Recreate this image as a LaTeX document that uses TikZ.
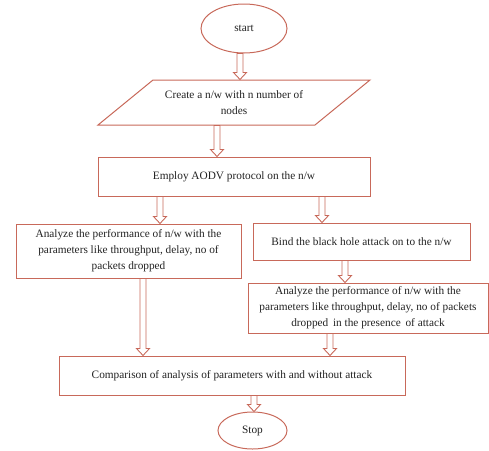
\documentclass[tikz,border=0pt]{standalone}
\usepackage{fontspec}
\setmainfont{Liberation Serif}
\usetikzlibrary{calc,shapes.geometric}
\pgfdeclarelayer{bg}
\pgfsetlayers{bg,main}
\definecolor{ln}{RGB}{200,105,90}
\definecolor{tx}{RGB}{35,35,35}
\tikzset{
 box/.style={draw=ln, line width=1pt, fill=white, inner sep=0pt, align=center, font=\fontsize{11.3}{16}\selectfont, text=tx},
 oval/.style={box, ellipse},
 blockarrow/.style={draw=ln, line width=0.9pt, fill=white, to path={let \p1=(\tikztostart), \p2=(\tikztotarget) in (\x1-3pt,\y1) -- (\x1-3pt,\y2+7pt) -- (\x1-6.5pt,\y2+7pt) -- (\x1,\y2) -- (\x1+6.5pt,\y2+7pt) -- (\x1+3pt,\y2+7pt) -- (\x1+3pt,\y1) -- cycle}}
}
\begin{document}
\begin{tikzpicture}[x=1pt,y=-1pt]
\useasboundingbox (0,0) rectangle (489,450);
\node[oval, minimum width=86, minimum height=49] (start) at (244,28.5) {start};
\node[box, draw=none, fill=none, minimum width=217, minimum height=45] (create) at (234,102.5) {Create a n/w with n number of\\nodes};
\node[box, minimum width=272, minimum height=39] (employ) at (234,176.5) {Employ AODV protocol on the n/w};
\node[box, minimum width=225, minimum height=54] (anl) at (128.5,251) {Analyze the performance of n/w with the\\parameters like throughput, delay, no of\\packets dropped};
\node[box, minimum width=217, minimum height=37] (bind) at (361.5,241.5) {Bind the black hole attack on to the n/w};
\node[box, minimum width=240, minimum height=50] (anr) at (368,308) {Analyze the performance of n/w with the\\parameters like throughput, delay, no of packets\\dropped\, in the presence\, of attack};
\node[box, minimum width=346, minimum height=39] (comp) at (232,375.5) {Comparison of analysis of parameters with and without attack};
\node[oval, minimum width=69, minimum height=37] (stop) at (252.5,430.5) {Stop};
\begin{pgfonlayer}{bg}
\draw[draw=ln, line width=1pt, fill=white] ($(create.center)+(-136,22.5)$) -- ($(create.center)+(-81,-22.5)$) -- ($(create.center)+(136,-22.5)$) -- ($(create.center)+(81,22.5)$) -- cycle;
\draw[blockarrow] ([xshift=-4]start.south) to (create.north);
\draw[blockarrow] ([xshift=-17]create.south) to (employ.north);
\draw[blockarrow] ([xshift=-74]employ.south) to (anl.north);
\draw[blockarrow] ([xshift=88]employ.south) to (bind.north);
\draw[blockarrow] ([xshift=-16.5]bind.south) to (anr.north);
\draw[blockarrow] ([xshift=14.5]anl.south) to (comp.north);
\draw[blockarrow] ([xshift=-38]anr.south) to (comp.north);
\draw[blockarrow] ([xshift=22]comp.south) to (stop.north);
\end{pgfonlayer}
\end{tikzpicture}
\end{document}
